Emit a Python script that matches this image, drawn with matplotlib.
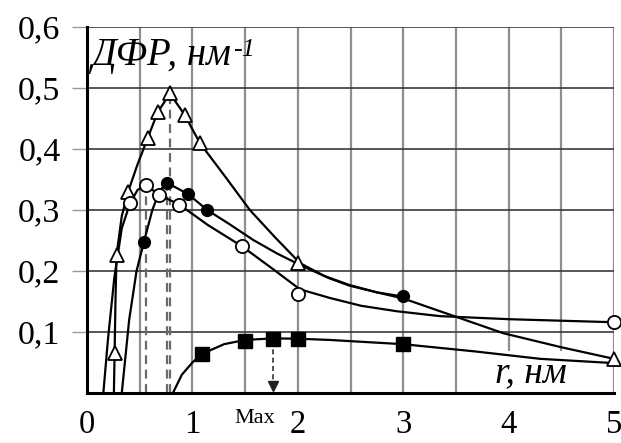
import matplotlib
matplotlib.use('Agg')
import matplotlib.pyplot as plt

# curves (r, nm ; DFR, 1/nm)
tri_line_x = [0.255, 0.262, 0.27, 0.28, 0.33, 0.39, 0.48, 0.575, 0.67, 0.787, 0.926, 1.07, 1.31, 1.545, 1.78, 2.02, 2.25, 2.49, 2.75, 3.0, 3.5, 3.95, 4.5, 5.0]
tri_line_y = [0.0, 0.066, 0.15, 0.226, 0.29, 0.33, 0.375, 0.4175, 0.46, 0.491, 0.456, 0.41, 0.355, 0.30, 0.256, 0.213, 0.192, 0.177, 0.165, 0.155, 0.125, 0.098, 0.075, 0.056]
open_line_x = [0.155, 0.2, 0.26, 0.33, 0.408, 0.48, 0.559, 0.686, 0.875, 1.15, 1.466, 1.75, 2.02, 2.3, 2.6, 2.94, 3.35, 4.0, 5.0]
open_line_y = [0.0, 0.09, 0.19, 0.27, 0.311, 0.333, 0.341, 0.3246, 0.309, 0.275, 0.241, 0.205, 0.170, 0.156, 0.143, 0.134, 0.126, 0.121, 0.116]
fill_line_x = [0.33, 0.40, 0.47, 0.54, 0.62, 0.686, 0.755, 0.96, 1.14, 1.35, 1.576, 1.8, 2.02, 2.3, 2.49, 2.75, 3.0]
fill_line_y = [0.0, 0.12, 0.20, 0.248, 0.30, 0.33, 0.345, 0.326, 0.30, 0.277, 0.251, 0.229, 0.21, 0.188, 0.176, 0.165, 0.158]
sq_line_x = [0.815, 0.9, 1.0, 1.09, 1.3, 1.5, 1.76, 2.0, 2.3, 3.0, 3.69, 4.3, 5.0]
sq_line_y = [0.0, 0.03, 0.05, 0.064, 0.08, 0.087, 0.0895, 0.089, 0.087, 0.080, 0.068, 0.056, 0.049]

# measured points
tri_x = [0.265, 0.28, 0.39, 0.575, 0.67, 0.787, 0.926, 1.07, 2.0, 5.0]
tri_y = [0.066, 0.226, 0.33, 0.4175, 0.46, 0.491, 0.456, 0.41, 0.213, 0.056]
open_x = [0.408, 0.559, 0.686, 0.875, 1.466, 2.0, 5.0]
open_y = [0.311, 0.341, 0.3246, 0.309, 0.241, 0.163, 0.116]
fill_x = [0.54, 0.755, 0.96, 1.14, 3.0]
fill_y = [0.248, 0.345, 0.326, 0.30, 0.159]
sq_x = [1.09, 1.5, 1.76, 2.0, 3.0]
sq_y = [0.064, 0.085, 0.0885, 0.0885, 0.080]

# peak positions (dashed drops) and max of squares
peak_x = [0.559, 0.755, 0.787]
peak_y = [0.341, 0.345, 0.491]
sq_max_x, sq_max_y = 1.76, 0.085

yticks = [0.1, 0.2, 0.3, 0.4, 0.5, 0.6]
ylabels = ['0,1', '0,2', '0,3', '0,4', '0,5', '0,6']
xticks = [0, 1, 2, 3, 4, 5]

plt.rcParams['font.family'] = ['Liberation Serif', 'DejaVu Serif']
fig = plt.figure(figsize=(6.21, 4.43), dpi=100)
ax = fig.add_axes([87/621, 1-393/443, 527/621, 366/443])
ax.set_xlim(0, 5)
ax.set_ylim(0, 0.6)

# grid: grey verticals every 0.5, dark horizontals every 0.1
for gx in [0.5, 1, 1.5, 2, 2.5, 3, 3.5, 4, 4.5, 5]:
    ax.axvline(gx, color='#8e8e8e', lw=1.6, zorder=0)
for gy in yticks:
    ax.axhline(gy, color='#3a3a3a', lw=1.2, zorder=0)

ax.set_yticks(yticks)
ax.set_yticklabels(ylabels, fontsize=24.5)
ax.set_xticks(xticks)
ax.set_xticklabels([str(v) for v in xticks], fontsize=23.5)
ax.tick_params(axis='y', length=11, width=1.0, color='#999999', pad=8)
ax.tick_params(axis='x', length=0, pad=12)
for s in ['top', 'right']:
    ax.spines[s].set_visible(False)
ax.spines['left'].set_linewidth(2.2)
ax.spines['bottom'].set_linewidth(2.2)

# dashed drops from the maxima
for px, py in zip(peak_x, peak_y):
    ax.plot([px, px], [0, py], ls=(0, (4, 2.5)), color='#6a6a6a', lw=1.6, zorder=1)
ax.plot([sq_max_x, sq_max_x], [sq_max_y, 0.015], ls=(0, (3, 2)), color='#333333', lw=1.2, zorder=1)
ax.plot([sq_max_x], [0.011], marker='v', color='#222222', ms=7, zorder=3)

# axis captions
ax.text(0.035, 0.538, 'ДФР, нм', fontsize=28, style='italic', zorder=1)
ax.text(1.39, 0.553, '-1', fontsize=19, style='italic', zorder=1)
ax.text(3.87, 0.018, 'r, нм', fontsize=27, style='italic', zorder=1.5,
        bbox=dict(facecolor='white', edgecolor='none', pad=3))
fig.text(255/621, 1-423/443, 'Max', ha='center', va='baseline', fontsize=16)

# curves
ax.plot(tri_line_x, tri_line_y, color='black', lw=1.6, zorder=2)
ax.plot(open_line_x, open_line_y, color='black', lw=1.6, zorder=2)
ax.plot(fill_line_x, fill_line_y, color='black', lw=1.6, zorder=2)
ax.plot(sq_line_x, sq_line_y, color='black', lw=1.6, zorder=2)

# markers
ax.plot(tri_x, tri_y, ls='none', marker='^', ms=9.5, mfc='white', mec='black', mew=1.3, clip_on=False, zorder=4)
ax.plot(open_x, open_y, ls='none', marker='o', ms=9.5, mfc='white', mec='black', mew=1.3, clip_on=False, zorder=4)
ax.plot(fill_x, fill_y, ls='none', marker='o', ms=8.5, mfc='black', mec='black', clip_on=False, zorder=4)
ax.plot(sq_x, sq_y, ls='none', marker='s', ms=10, mfc='black', mec='black', clip_on=False, zorder=4)

fig.savefig('out.png', dpi=100)
